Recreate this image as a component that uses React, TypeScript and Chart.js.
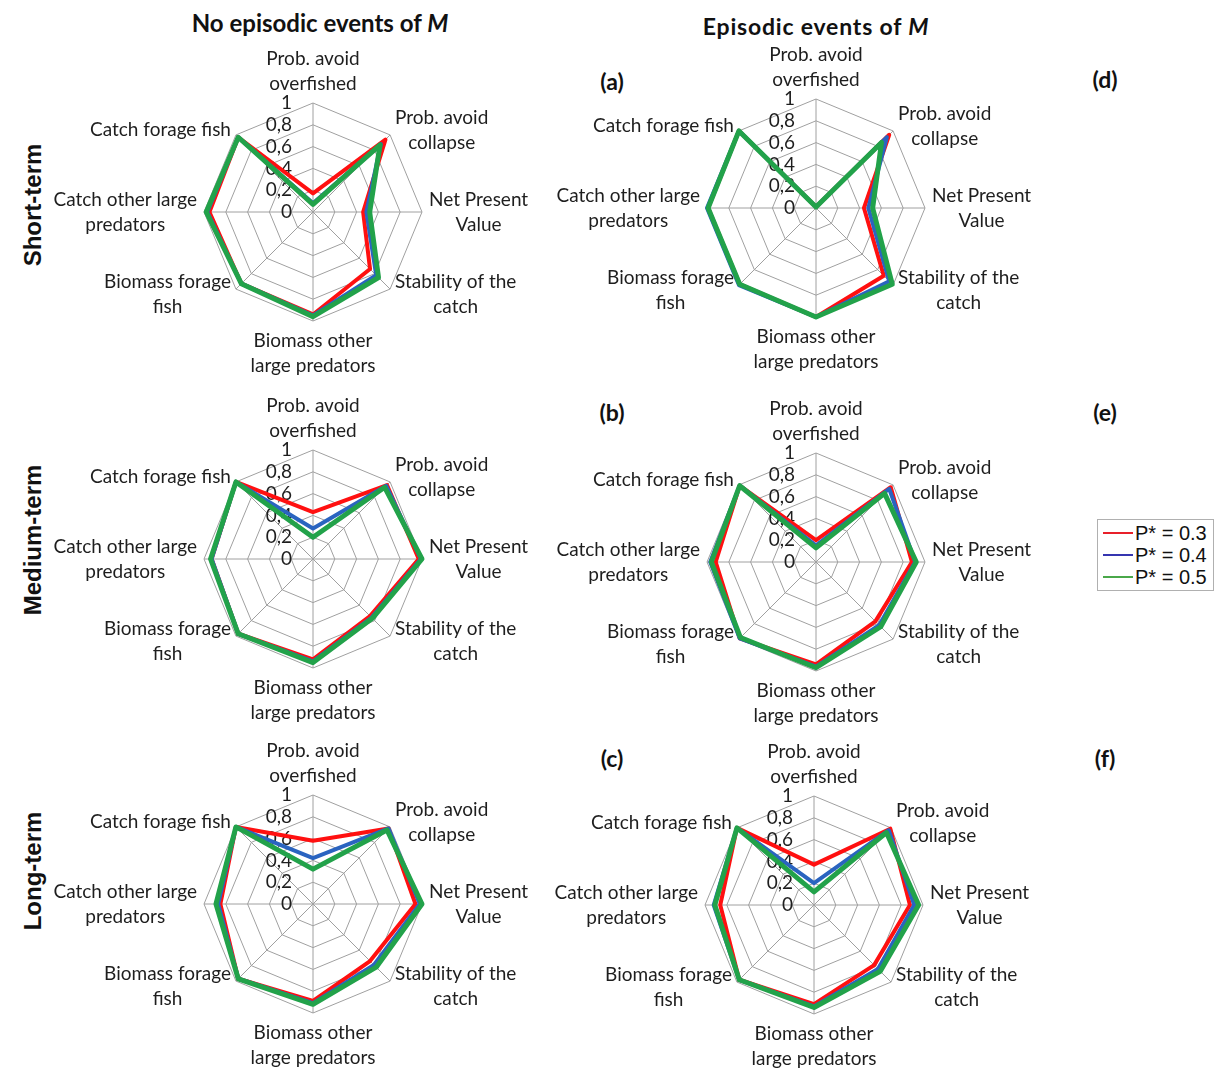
import React, { useEffect, useRef } from "react";
import { Chart, registerables } from "chart.js";

Chart.register(...registerables);

// ---------- data ----------
const AXIS_LABELS: string[][] = [
  ["Prob. avoid", "overfished"],
  ["Prob. avoid", "collapse"],
  ["Net Present", "Value"],
  ["Stability of the", "catch"],
  ["Biomass other", "large predators"],
  ["Biomass forage", "fish"],
  ["Catch other large", "predators"],
  ["Catch forage fish"],
];

const SERIES_NAMES = ["P* = 0.3", "P* = 0.4", "P* = 0.5"];
const SERIES_COLORS = ["#ff1010", "#2a64c0", "#22a24a"];
const LEGEND_COLORS = ["#e8202a", "#3535b0", "#4aa84a"];

const TICK_VALUES = [0, 0.2, 0.4, 0.6, 0.8, 1];
const TICK_LABELS = ["0", "0,2", "0,4", "0,6", "0,8", "1"];

// (a) Short-term, no episodic events of M
const A_P03 = [0.17, 0.94, 0.46, 0.74, 0.94, 0.93, 0.95, 0.97];
const A_P04 = [0.08, 0.88, 0.49, 0.82, 0.95, 0.93, 0.97, 0.97];
const A_P05 = [0.07, 0.87, 0.52, 0.85, 0.96, 0.93, 0.98, 0.97];

// (b) Medium-term, no episodic events of M
const B_P03 = [0.43, 0.96, 0.97, 0.74, 0.92, 0.97, 0.93, 1.0];
const B_P04 = [0.28, 0.95, 0.99, 0.76, 0.94, 0.97, 0.93, 1.0];
const B_P05 = [0.2, 0.93, 1.0, 0.77, 0.95, 0.97, 0.94, 1.0];

// (c) Long-term, no episodic events of M
const C_P03 = [0.58, 0.98, 0.94, 0.74, 0.89, 0.97, 0.85, 1.0];
const C_P04 = [0.42, 0.98, 0.98, 0.79, 0.91, 0.97, 0.87, 1.0];
const C_P05 = [0.32, 0.96, 1.0, 0.82, 0.92, 0.97, 0.89, 1.0];

// (d) Short-term, episodic events of M
const D_P03 = [0.01, 0.95, 0.44, 0.88, 1.0, 0.99, 0.99, 1.0];
const D_P04 = [0.01, 0.92, 0.48, 0.95, 1.0, 1.0, 1.0, 1.0];
const D_P05 = [0.01, 0.85, 0.52, 0.99, 1.0, 0.99, 0.99, 1.0];

// (e) Medium-term, episodic events of M
const E_P03 = [0.2, 0.97, 0.88, 0.77, 0.94, 0.99, 0.92, 0.99];
const E_P04 = [0.15, 0.95, 0.91, 0.82, 0.96, 0.99, 0.97, 0.99];
const E_P05 = [0.13, 0.89, 0.92, 0.84, 0.97, 0.98, 0.96, 0.99];

// (f) Long-term, episodic events of M
const F_P03 = [0.37, 0.99, 0.88, 0.78, 0.91, 0.97, 0.86, 1.0];
const F_P04 = [0.2, 0.97, 0.92, 0.83, 0.93, 0.97, 0.92, 1.0];
const F_P05 = [0.12, 0.94, 0.96, 0.86, 0.94, 0.97, 0.91, 1.0];

// ---------- layout / style ----------
const PW = 540;
const PH = 340;
const R = 109;
const GRID = "#a0a0a0";
const TEXT = "#1e1e1e";
const LABEL_FONT = "19px Lato";
const LINE_H = 25;
const GAP = 7;
const TICK_OFFSET = 21;
const WIDTHS = [4, 4, 5];

const labelPlugin = {
  id: "excelLabels",
  beforeDatasetsDraw(chart: any) {
    const s = chart.scales.r;
    const ctx = chart.ctx;
    ctx.save();
    ctx.fillStyle = TEXT;
    ctx.font = LABEL_FONT;
    ctx.textAlign = "right";
    ctx.textBaseline = "middle";
    TICK_VALUES.forEach((v, i) => {
      const d = s.getDistanceFromCenterForValue(v);
      ctx.fillText(TICK_LABELS[i], s.xCenter - TICK_OFFSET, s.yCenter - d);
    });
    ctx.restore();
  },
  afterDraw(chart: any) {
    const s = chart.scales.r;
    const ctx = chart.ctx;
    ctx.save();
    ctx.fillStyle = TEXT;
    ctx.font = LABEL_FONT;
    ctx.textBaseline = "middle";
    ctx.textAlign = "center";
    (chart.data.labels as any[]).forEach((lab, i) => {
      const lines: string[] = Array.isArray(lab) ? lab : [lab];
      const p = s.getPointPosition(i, s.drawingArea + GAP);
      const dx = p.x - s.xCenter;
      const dy = p.y - s.yCenter;
      const bw = Math.max(...lines.map((l) => ctx.measureText(l).width));
      const bh = lines.length * LINE_H;
      const left = Math.abs(dx) < 1 ? p.x - bw / 2 : dx > 0 ? p.x : p.x - bw;
      const top = Math.abs(dx) < 1 ? (dy < 0 ? p.y - bh : p.y) : p.y - bh / 2;
      lines.forEach((l, j) => ctx.fillText(l, left + bw / 2, top + LINE_H * (j + 0.5)));
    });
    ctx.restore();
  },
};

function RadarPanel({ series, cx, cy }: { series: number[][]; cx: number; cy: number }) {
  const ref = useRef<HTMLCanvasElement>(null);
  useEffect(() => {
    const padX = PW / 2 - R;
    const padY = PH / 2 - R;
    const chart = new Chart(ref.current as HTMLCanvasElement, {
      type: "radar",
      data: {
        labels: AXIS_LABELS as any,
        datasets: series.map((d, i) => ({
          label: SERIES_NAMES[i],
          data: d,
          borderColor: SERIES_COLORS[i],
          backgroundColor: "transparent",
          borderWidth: WIDTHS[i],
          borderJoinStyle: "round",
          pointRadius: 0,
          pointHoverRadius: 0,
          fill: false,
          order: 2 - i,
          clip: false,
        })) as any,
      },
      options: {
        responsive: false,
        animation: false,
        devicePixelRatio: 1,
        layout: { padding: { left: padX, right: padX, top: padY, bottom: padY } },
        plugins: { legend: { display: false }, tooltip: { enabled: false } },
        scales: {
          r: {
            min: 0,
            max: 1,
            ticks: { display: false, stepSize: 0.2 },
            pointLabels: { display: false },
            grid: { color: GRID, lineWidth: 1, circular: false },
            angleLines: { color: GRID, lineWidth: 1 },
          },
        },
      } as any,
      plugins: [labelPlugin as any],
    });
    return () => chart.destroy();
  }, []);
  return (
    <canvas
      ref={ref}
      width={PW}
      height={PH}
      style={{ position: "absolute", left: cx - PW / 2, top: cy - PH / 2, width: PW, height: PH }}
    />
  );
}

const PANELS = [
  { series: [A_P03, A_P04, A_P05], cx: 313, cy: 212 },
  { series: [B_P03, B_P04, B_P05], cx: 313, cy: 559 },
  { series: [C_P03, C_P04, C_P05], cx: 313, cy: 904 },
  { series: [D_P03, D_P04, D_P05], cx: 816, cy: 208 },
  { series: [E_P03, E_P04, E_P05], cx: 816, cy: 562 },
  { series: [F_P03, F_P04, F_P05], cx: 814, cy: 905 },
];

const PANEL_LETTERS = [
  { t: "(a)", x: 612, y: 81 },
  { t: "(b)", x: 612, y: 412 },
  { t: "(c)", x: 612, y: 758 },
  { t: "(d)", x: 1105, y: 79 },
  { t: "(e)", x: 1105, y: 412 },
  { t: "(f)", x: 1105, y: 758 },
];

const ROW_LABELS = [
  { t: "Short-term", y: 205 },
  { t: "Medium-term", y: 540 },
  { t: "Long-term", y: 871 },
];

const centered = (x: number, y: number): React.CSSProperties => ({
  position: "absolute",
  left: x,
  top: y,
  transform: "translate(-50%, -50%)",
  whiteSpace: "nowrap",
});

export default function App() {
  return (
    <div
      style={{
        position: "absolute",
        left: 0,
        top: 0,
        width: 1216,
        height: 1070,
        background: "#fff",
        overflow: "hidden",
        color: "#111",
      }}
    >
      <div style={{ ...centered(320, 22), font: "bold 24px Lato" }}>
        No episodic events of <i>M</i>
      </div>
      <div style={{ ...centered(816, 26), font: "bold 23px Lato", letterSpacing: 0.8 }}>
        Episodic events of <i>M</i>
      </div>
      {ROW_LABELS.map((r) => (
        <div
          key={r.t}
          style={{
            position: "absolute",
            left: 33,
            top: r.y,
            transform: "translate(-50%, -50%) rotate(-90deg)",
            whiteSpace: "nowrap",
            font: "bold 24px 'Liberation Sans'",
          }}
        >
          {r.t}
        </div>
      ))}
      {PANEL_LETTERS.map((p) => (
        <div key={p.t} style={{ ...centered(p.x, p.y), font: "bold 23px Lato" }}>
          {p.t}
        </div>
      ))}
      {PANELS.map((p, i) => (
        <RadarPanel key={i} series={p.series} cx={p.cx} cy={p.cy} />
      ))}
      <div
        style={{
          position: "absolute",
          left: 1097,
          top: 519,
          width: 117,
          height: 72,
          border: "1px solid #b0b0b0",
          boxSizing: "border-box",
          font: "20px 'Liberation Sans'",
          color: "#111",
        }}
      >
        {SERIES_NAMES.map((n, i) => (
          <div
            key={n}
            style={{ display: "flex", alignItems: "center", height: 22, marginTop: i === 0 ? 2 : 0, paddingLeft: 5 }}
          >
            <div style={{ width: 30, height: 2, background: LEGEND_COLORS[i], marginRight: 2, flex: "0 0 auto" }} />
            <span>{n}</span>
          </div>
        ))}
      </div>
    </div>
  );
}
